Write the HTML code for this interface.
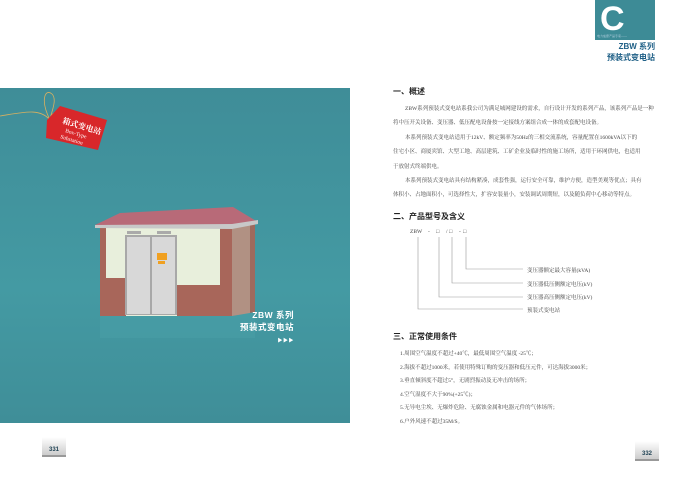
<!DOCTYPE html>
<html><head><meta charset="utf-8"><style>
body{margin:0;width:700px;height:478px;background:#fff;position:relative;overflow:hidden;font-family:"Liberation Serif","Noto Serif CJK SC",serif;}
.a{position:absolute;white-space:nowrap}
.t{font-size:5.5px;color:#444}
.h{font-family:"Liberation Sans","Noto Sans CJK SC",sans-serif;font-size:8px;font-weight:bold;color:#222}
</style></head><body>
<div class="a" style="left:0;top:88px;width:350px;height:335px;background:linear-gradient(#3f8d98,#449aa3 60%,#3f8e98)"></div>
<!-- tag -->
<svg class="a" style="left:0;top:80px" width="120" height="80">
<path d="M0 36 C25 32 40 28 50 40 M50 40 C40 20 45 8 52 14 C58 20 50 35 50 40 C52 28 62 34 48 42" stroke="#d8b060" fill="none" stroke-width="0.8"/>
<polygon points="47,40 60,26 107,40 98,70 46,58" fill="#d8272a"/>
<text x="62" y="43" font-size="8" fill="#fff" font-weight="bold" transform="rotate(17 62 43)" font-family="Noto Serif CJK SC,serif">箱式变电站</text>
<text x="65" y="52" font-size="5.5" fill="#fff" transform="rotate(17 65 52)">Box-Type</text>
<text x="60" y="58" font-size="5.5" fill="#fff" transform="rotate(17 60 58)">Substation</text>
</svg>
<!-- building -->
<svg class="a" style="left:0;top:0" width="350" height="423">
<rect x="100" y="313" width="155" height="25" fill="#4a9ea6" opacity="0.6"/>
<polygon points="232,228 255,222 255,312 232,316" fill="#9e6a5e"/>
<polygon points="232,224 250,222 250,313 232,316" fill="#c3b8a8" opacity="0.5"/>
<rect x="100" y="228" width="132" height="88" fill="#e8efdc"/>
<rect x="100" y="228" width="6" height="50" fill="#a8665a"/>
<rect x="100" y="278" width="26" height="38" fill="#a8665a"/>
<rect x="177" y="285" width="55" height="31" fill="#a8665a"/>
<rect x="220" y="228" width="12" height="57" fill="#a8665a"/>
<polygon points="95,225 120,213 233,207 258,222 232,228 100,228" fill="#b86a78"/>
<polygon points="95,225 232,224 258,220 258,224 232,229 95,228" fill="#c8c8c8"/>
<rect x="125" y="235" width="52" height="80" fill="#a8a8a8"/>
<rect x="127" y="237" width="23" height="77" fill="#d8d8d8"/>
<rect x="152" y="237" width="23" height="77" fill="#d8d8d8"/>
<rect x="157" y="253" width="10" height="7" fill="#f0a020"/>
<rect x="158" y="261" width="7" height="3" fill="#f0a020"/>
<rect x="127" y="231" width="14" height="3" fill="#aaa"/><rect x="157" y="231" width="14" height="3" fill="#aaa"/>
</svg>
<div class="a" style="left:238px;top:309px;font-family:'Liberation Sans','Noto Sans CJK SC',sans-serif;font-size:8.5px;color:#fff;font-weight:bold;text-align:right;line-height:12px;width:56px;letter-spacing:0.5px">ZBW 系列<br>预装式变电站<br><span style="font-size:5px">▶▶▶</span></div>
<div class="a" style="left:42px;top:437px;width:24px;height:18px;background:linear-gradient(#fff,#ccc);border-bottom:2px solid #999;font:bold 6px 'Liberation Sans',sans-serif;color:#245;text-align:center;line-height:26px">331</div>
<div class="a" style="left:635px;top:441px;width:24px;height:18px;background:linear-gradient(#fff,#ccc);border-bottom:2px solid #999;font:bold 6px 'Liberation Sans',sans-serif;color:#245;text-align:center;line-height:26px">332</div>
<!-- C box -->
<div class="a" style="left:595px;top:0;width:60px;height:40px;background:#3d8b96"></div>
<div class="a" style="left:600px;top:0px;font:bold 34px 'Liberation Sans',sans-serif;color:#fff">C</div>
<div class="a" style="left:597px;top:34px;font-size:3px;color:#cde">电力成套产品专家——</div>
<div class="a" style="left:600px;top:41px;width:55px;text-align:right;font-family:'Liberation Sans','Noto Sans CJK SC',sans-serif;font-size:8px;font-weight:bold;color:#1e5f86;line-height:11px">ZBW 系列<br>预装式变电站</div>
<div class="a h" style="left:393px;top:86px">一、概述</div>
<div class="a t" style="left:405px;top:104px">ZBW系列预装式变电站系我公司为满足城网建设的需求，自行设计开发的系列产品，该系列产品是一种</div>
<div class="a t" style="left:393px;top:118px">将中压开关设备、变压器、低压配电设备按一定接线方案组合成一体的成套配电设备。</div>
<div class="a t" style="left:405px;top:133px">本系列预装式变电站适用于12kV、额定频率为50Hz的三相交流系统，容量配置在1600kVA以下的</div>
<div class="a t" style="left:393px;top:147px">住宅小区、商厦宾馆、大型工地、高层建筑、工矿企业及临时性的施工场所，适用于环网供电，也适用</div>
<div class="a t" style="left:393px;top:162px">于放射式终端供电。</div>
<div class="a t" style="left:405px;top:176px">本系列预装式变电站具有结构紧凑，成套性强，运行安全可靠，维护方便，造型美观等优点；具有</div>
<div class="a t" style="left:393px;top:190px">体积小、占地面积小，可选择性大，扩容安装量小，安装调试周期短，以及随负荷中心移动等特点。</div>
<div class="a h" style="left:393px;top:211px">二、产品型号及含义</div>
<div class="a t" style="left:410px;top:229px">ZBW</div>
<div class="a t" style="left:428px;top:229px">-</div>
<div class="a t" style="left:436px;top:229px">□</div>
<div class="a t" style="left:446px;top:229px">/</div>
<div class="a t" style="left:449px;top:229px">□</div>
<div class="a t" style="left:459px;top:229px">-</div>
<div class="a t" style="left:463px;top:229px">□</div>
<svg class="a" style="left:410px;top:230px" width="120" height="85">
<g stroke="#999" stroke-width="0.6" fill="none">
<path d="M56 7 V39 H113"/><path d="M42 7 V53 H113"/><path d="M29 7 V67 H113"/><path d="M8 7 V79 H113"/>
</g></svg>
<div class="a t" style="left:527px;top:266px">变压器额定最大容量(kVA)</div>
<div class="a t" style="left:527px;top:280px">变压器低压侧额定电压(kV)</div>
<div class="a t" style="left:527px;top:293px">变压器高压侧额定电压(kV)</div>
<div class="a t" style="left:527px;top:306px">预装式变电站</div>
<div class="a h" style="left:393px;top:331px">三、正常使用条件</div>
<div class="a t" style="left:400px;top:349px">1.周围空气温度不超过+40℃，最低周围空气温度 -25℃；</div>
<div class="a t" style="left:400px;top:363px">2.海拔不超过1000米，若使用特殊订购的变压器和低压元件，可达海拔3000米；</div>
<div class="a t" style="left:400px;top:376px">3.垂直倾斜度不超过5°，无剧烈振动及无冲击的场所；</div>
<div class="a t" style="left:400px;top:390px">4.空气湿度不大于90%(+25℃)；</div>
<div class="a t" style="left:400px;top:403px">5.无导电尘埃、无爆炸危险、无腐蚀金属和电器元件的气体场所；</div>
<div class="a t" style="left:400px;top:417px">6.户外风速不超过35M/S。</div>
</body></html>
